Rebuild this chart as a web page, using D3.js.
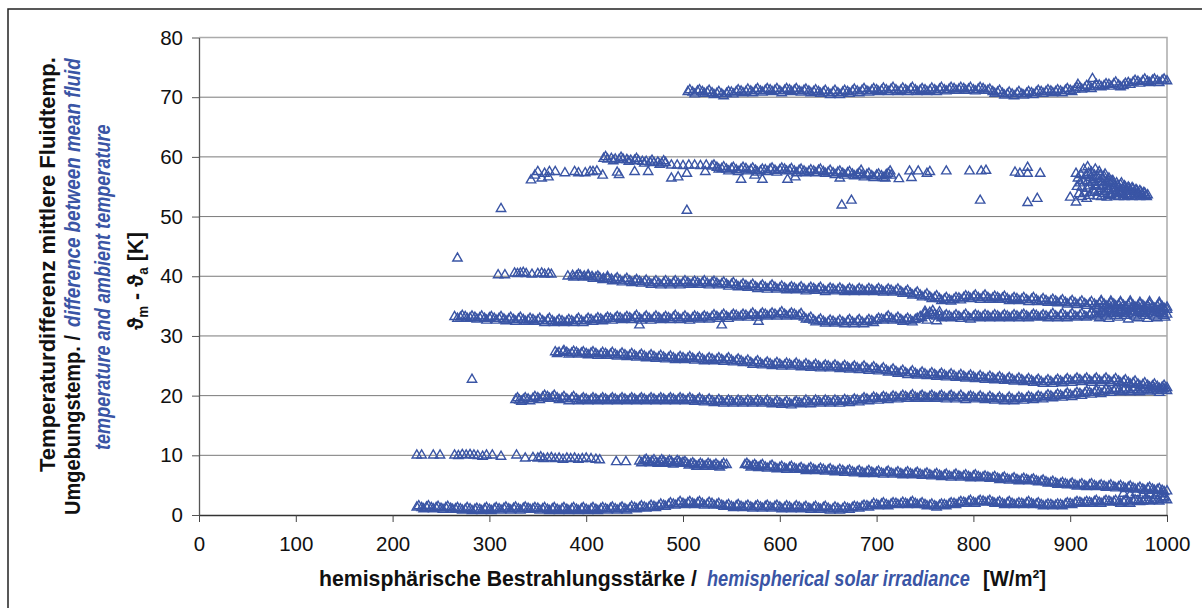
<!DOCTYPE html>
<html>
<head>
<meta charset="utf-8">
<script src="https://cdn.jsdelivr.net/npm/d3@7"></script>
<style>
body { margin: 0; background: #fff; }
svg text { font-family: "Liberation Sans", Arial, sans-serif; }
.blk { font-weight: bold; fill: #111; }
.blue { font-style: italic; font-weight: bold; fill: #3a55a5; }
</style>
</head>
<body>
<div id="chart"></div>
<script>
const xTicks = [0, 100, 200, 300, 400, 500, 600, 700, 800, 900, 1000]
const yTicks = [0, 10, 20, 30, 40, 50, 60, 70, 80]

// ~71-73 K
const bandA = [[505,70.9],[510,70.8],[515,71.0],[520,70.9],[525,70.8],[530,70.7],[535,70.6],[540,70.5],[545,70.6],[550,70.8],[555,70.9],[560,71.0],[565,70.9],[570,71.0],[575,71.1],[580,71.0],[585,71.1],[590,71.2],[595,71.1],[600,71.0],[605,71.1],[610,71.2],[615,71.1],[620,71.0],[625,71.1],[630,71.0],[635,70.9],[640,70.9],[645,70.8],[650,70.7],[655,70.8],[660,70.7],[665,70.8],[670,70.9],[675,71.0],[680,71.0],[685,71.1],[690,71.0],[695,71.1],[700,71.2],[705,71.1],[710,71.2],[715,71.3],[720,71.2],[725,71.1],[730,71.2],[735,71.3],[740,71.2],[745,71.1],[750,71.2],[755,71.1],[760,71.2],[765,71.3],[770,71.2],[775,71.3],[780,71.4],[785,71.3],[790,71.4],[795,71.3],[800,71.2],[805,71.3],[810,71.4],[815,71.1],[820,70.9],[825,70.8],[830,70.6],[835,70.5],[840,70.5],[845,70.6],[850,70.5],[855,70.6],[860,70.7],[865,70.8],[870,70.9],[875,70.9],[880,71.0],[885,70.9],[890,71.0],[895,71.1],[900,71.1],[905,71.3],[908,72.1],[910,71.6],[915,71.5],[920,71.7],[923,73.1],[925,71.8],[930,72.0],[935,71.9],[940,72.1],[945,72.2],[950,72.0],[955,71.9],[960,72.4],[965,72.5],[970,72.6],[975,72.7],[980,72.6],[985,72.8],[990,72.7],[995,72.8],[1000,72.7]]
const bandA2 = [[507,71.2],[512,70.5],[517,71.2],[522,70.6],[527,71.1],[532,70.4],[537,70.9],[542,70.2],[547,70.9],[552,70.5],[557,71.2],[562,70.7],[567,71.3],[572,70.7],[577,71.4],[582,70.8],[587,71.4],[592,70.9],[597,71.4],[602,70.7],[607,71.4],[612,70.9],[617,71.4],[622,70.8],[627,71.3],[632,70.7],[637,71.2],[642,70.6],[647,71.1],[652,70.4],[657,71.1],[662,70.4],[667,71.1],[672,70.6],[677,71.3],[682,70.7],[687,71.4],[692,70.8],[697,71.4],[702,70.9],[707,71.5],[712,70.9],[717,71.6],[722,70.9],[727,71.5],[732,70.9],[737,71.6],[742,70.9],[747,71.4],[752,70.9],[757,71.5],[762,70.9],[767,71.6],[772,71.0],[777,71.6],[782,71.1],[787,71.6],[792,71.1],[797,71.6],[802,71.0],[807,71.6],[812,71.1],[817,71.3],[822,70.6],[827,71.1],[832,70.3],[837,70.8],[842,70.2],[847,70.9],[852,70.3],[857,70.9],[862,70.4],[867,71.1],[872,70.6],[877,71.2],[882,70.7],[887,71.2],[892,70.7],[897,71.4],[902,70.9],[907,71.6],[912,71.3],[917,71.9],[922,71.4],[927,72.1],[932,71.7],[937,72.2],[942,71.8],[947,72.5],[952,71.7],[957,72.3],[962,72.1],[967,72.8],[972,72.3],[977,73.0],[982,72.4],[987,73.0],[992,72.4],[997,73.0]]

// ~57-60 K
const bandB = [[418,59.7],[420,60.0],[422,59.6],[426,59.7],[428,59.3],[430,59.6],[434,59.5],[436,59.9],[438,59.6],[442,59.5],[444,59.2],[446,59.4],[450,59.4],[452,59.7],[454,59.3],[458,59.2],[460,58.9],[462,59.2],[466,59.1],[468,59.4],[470,59.0],[474,59.1],[476,58.7],[478,58.9],[480,59.3],[482,59.0],[488,58.6],[494,58.6],[500,58.5],[506,58.6],[512,58.6],[518,58.5],[524,58.6],[530,58.4],[535,58.2],[540,58.0],[545,57.9],[550,58.0],[555,57.8],[560,57.9],[565,58.0],[570,57.8],[575,57.7],[580,57.6],[585,57.8],[590,57.9],[595,57.7],[600,57.8],[605,57.9],[610,57.7],[615,57.6],[620,57.7],[625,57.6],[630,57.5],[635,57.6],[640,57.7],[645,57.5],[650,57.4],[655,57.3],[660,57.4],[665,57.2],[670,57.3],[675,57.1],[680,57.0],[685,56.9],[690,57.0],[695,56.8],[700,56.9],[705,56.8],[709,56.4],[710,57.0],[715,56.9]]
const bandB2 = [[532,58.6],[537,57.9],[542,58.3],[547,57.6],[552,58.2],[557,57.5],[562,58.2],[567,57.6],[572,58.1],[577,57.4],[582,57.9],[587,57.5],[592,58.1],[597,57.4],[602,58.1],[607,57.6],[612,58.0],[617,57.3],[622,57.9],[627,57.3],[632,57.8],[637,57.3],[642,57.9],[647,57.2],[652,57.7],[657,57.0],[662,57.6],[667,56.9],[672,57.5],[677,56.8],[682,57.3],[687,56.6],[692,57.2],[697,56.5],[702,57.1],[707,56.5],[712,57.2]]
const bandBScatter = [[343,56.1],[347,56.9],[350,57.5],[354,56.4],[357,57.2],[361,56.6],[362,57.5],[368,57.5],[378,57.3],[388,57.5],[392,57.3],[399,57.3],[404,57.5],[407,57.5],[411,57.6],[417,56.9],[432,57.4],[434,57.0],[450,57.5],[464,57.5],[488,56.4],[495,56.6],[504,57.2],[523,57.5],[560,56.2],[574,56.9],[582,56.2],[608,56.2],[616,56.6],[662,56.4],[684,57.7],[714,57.6],[723,56.3],[734,57.6],[736,56.5],[743,57.6],[752,57.2],[755,57.5],[772,57.6],[796,57.6],[808,57.6],[813,57.7],[843,57.4],[848,57.2],[856,58.2],[856,57.2],[869,57.2],[312,51.3],[504,51.0],[664,51.9],[674,52.7],[807,52.7],[856,52.3],[866,53.0],[900,53.2],[906,52.4],[912,53.3],[917,53.0]]
const bandBCluster = [[906,57.2],[908,56.4],[910,55.6],[912,54.9],[914,57.9],[916,56.8],[918,58.3],[918,55.9],[920,55.1],[920,53.5],[922,57.4],[924,56.2],[924,54.4],[926,57.9],[926,55.3],[928,56.7],[928,53.4],[930,57.5],[930,55.8],[932,54.7],[932,53.3],[934,56.3],[934,55.2],[936,57.1],[936,54.1],[938,55.7],[938,53.2],[940,56.4],[940,54.6],[942,55.4],[942,53.7],[944,56.0],[944,54.3],[946,55.1],[946,53.4],[948,55.6],[948,54.0],[950,54.8],[950,53.3],[952,55.3],[952,53.9],[954,54.6],[956,55.1],[956,53.3],[958,54.2],[960,54.9],[960,53.5],[962,54.4],[964,54.8],[964,53.3],[966,54.1],[968,54.5],[968,53.4],[970,53.9],[972,54.3],[972,53.3],[974,53.8],[976,54.0],[978,53.5],[980,53.6],[907,55.0],[909,53.8],[911,57.0],[913,56.0],[915,53.9],[917,54.7],[919,57.3],[921,56.5],[923,55.7],[925,56.9],[925,54.0],[927,55.0],[929,54.2],[931,56.9],[933,55.6],[935,53.8],[935,56.7],[937,55.0],[939,54.4],[939,56.0],[941,53.5],[943,55.9],[945,54.7],[947,53.8],[949,55.2],[951,54.2],[953,55.6],[955,53.7],[957,54.9],[959,53.8],[961,54.7],[963,53.8],[965,54.6],[967,53.7],[969,54.3],[971,53.6],[973,54.1],[975,53.5],[977,53.9],[979,53.3]]

// ~40 -> 35 K
const bandC = [[267,43.0],[309,40.2],[316,40.2],[326,40.5],[329,40.4],[332,40.5],[335,40.6],[338,40.4],[344,40.3],[350,40.4],[354,40.5],[357,40.3],[361,40.4],[364,40.3],[381,40.0],[386,40.1],[390,40.0],[394,40.1],[398,40.0],[402,39.9],[406,39.9],[410,39.8],[414,39.7],[418,39.6],[422,39.6],[426,39.5],[430,39.4],[435,39.3],[440,39.3],[445,39.2],[450,39.1],[455,39.1],[460,39.0],[465,38.9],[470,38.9],[475,38.8],[480,38.9],[485,38.8],[490,38.9],[495,38.8],[500,38.9],[505,38.9],[510,38.8],[515,38.9],[520,38.9],[525,38.8],[530,38.9],[535,38.8],[540,38.7],[545,38.6],[550,38.6],[555,38.5],[560,38.4],[565,38.4],[570,38.3],[575,38.2],[580,38.2],[585,38.1],[590,38.2],[595,38.1],[600,38.0],[605,38.0],[610,37.9],[615,38.0],[620,37.9],[625,37.8],[630,37.8],[635,37.9],[640,37.8],[645,37.7],[650,37.7],[655,37.8],[660,37.7],[665,37.7],[670,37.6],[675,37.7],[680,37.6],[685,37.7],[690,37.6],[695,37.7],[700,37.6],[705,37.6],[710,37.5],[715,37.6],[720,37.5],[725,37.4],[730,37.3],[735,37.1],[740,37.0],[745,36.8],[750,36.7],[755,36.5],[760,36.4],[765,36.2],[770,36.1],[775,36.0],[780,36.1],[785,36.3],[790,36.4],[795,36.5],[800,36.5],[805,36.4],[810,36.5],[815,36.4],[820,36.3],[825,36.4],[830,36.3],[835,36.2],[840,36.1],[845,36.2],[850,36.1],[855,36.0],[860,36.1],[865,36.0],[870,35.9],[875,35.9],[880,35.8],[885,35.8],[890,35.7],[895,35.6],[900,35.6],[905,35.5],[910,35.5],[915,35.4],[920,35.4],[925,35.3],[930,35.4],[935,35.3],[940,35.2],[945,35.3],[950,35.2],[955,35.1],[960,35.2],[965,35.1],[970,35.0],[975,35.1],[980,35.0],[985,34.9],[990,35.0],[995,34.9],[1000,34.8]]
const bandC2 = [[387,39.8],[392,40.3],[397,39.8],[402,40.2],[407,39.6],[412,40.0],[417,39.4],[422,39.9],[427,39.2],[432,39.7],[437,39.0],[442,39.6],[447,38.9],[452,39.4],[457,38.8],[462,39.3],[467,38.6],[472,39.2],[477,38.5],[482,39.2],[487,38.5],[492,39.2],[497,38.5],[502,39.2],[507,38.6],[512,39.1],[517,38.6],[522,39.2],[527,38.5],[532,39.1],[537,38.5],[542,39.0],[547,38.3],[552,38.9],[557,38.2],[562,38.7],[567,38.1],[572,38.6],[577,37.9],[582,38.5],[587,37.8],[592,38.5],[597,37.8],[602,38.3],[607,37.7],[612,38.2],[617,37.7],[622,38.2],[627,37.5],[632,38.1],[637,37.6],[642,38.1],[647,37.4],[652,38.0],[657,37.5],[662,38.0],[667,37.4],[672,37.9],[677,37.4],[682,37.9],[687,37.4],[692,37.9],[697,37.4],[702,37.9],[707,37.3],[712,37.8],[717,37.3],[722,37.8],[727,37.1],[732,37.6],[737,36.8],[742,37.3],[747,36.5],[752,37.0],[757,36.2],[762,36.7],[767,35.9],[772,36.4],[777,35.8],[782,36.4],[787,36.0],[792,36.7],[797,36.2],[802,36.8],[807,36.1],[812,36.8],[817,36.1],[822,36.6],[827,36.1],[832,36.6],[837,35.9],[842,36.4],[847,35.9],[852,36.4],[857,35.7],[862,36.4],[867,35.7],[872,36.2],[877,35.6],[882,36.1],[887,35.5],[892,36.0],[897,35.3],[902,35.9],[907,35.2],[912,35.8],[917,35.1],[922,35.7],[927,35.0],[932,35.7],[937,35.0],[942,35.5],[947,35.0],[952,35.5],[957,34.8],[962,35.5],[967,34.8],[972,35.3],[977,34.8],[982,35.3],[987,34.6],[992,35.3],[997,34.6]]

// ~33 K
const bandD = [[264,33.2],[270,33.1],[275,33.2],[280,33.0],[285,33.1],[290,33.0],[295,32.9],[300,33.0],[305,32.9],[310,32.9],[315,32.8],[320,32.8],[325,32.7],[330,32.8],[335,32.7],[340,32.6],[345,32.7],[350,32.6],[355,32.5],[360,32.6],[365,32.5],[370,32.4],[375,32.5],[380,32.4],[385,32.5],[390,32.6],[395,32.5],[400,32.6],[405,32.7],[410,32.7],[415,32.8],[420,32.8],[425,32.9],[430,32.9],[435,33.0],[440,32.9],[445,33.0],[450,33.1],[455,32.9],[460,33.0],[465,32.9],[470,33.0],[475,33.0],[480,32.9],[485,33.0],[490,33.1],[495,33.0],[500,33.0],[505,32.9],[510,33.0],[515,33.1],[520,33.0],[525,33.1],[530,33.2],[535,33.2],[540,33.3],[545,33.2],[550,33.3],[555,33.4],[560,33.3],[565,33.4],[570,33.5],[575,33.4],[580,33.5],[585,33.6],[590,33.5],[595,33.6],[600,33.7],[605,33.6],[610,33.5],[615,33.6],[620,33.4],[625,33.1],[630,32.8],[635,32.6],[640,32.5],[645,32.4],[650,32.3],[655,32.4],[660,32.3],[665,32.3],[670,32.4],[675,32.3],[680,32.4],[685,32.3],[690,32.4],[695,32.5],[700,32.6],[705,32.8],[710,33.0],[715,32.9],[720,32.8],[725,32.7],[730,32.6],[735,32.6],[740,32.7],[745,33.2],[750,33.7],[755,33.9],[760,33.6],[765,33.4],[770,33.2],[775,33.3],[780,33.2],[785,33.2],[790,33.3],[795,33.1],[800,33.2],[805,33.3],[810,33.2],[815,33.3],[820,33.2],[825,33.3],[830,33.2],[835,33.3],[840,33.2],[845,33.3],[850,33.4],[855,33.3],[860,33.3],[865,33.4],[870,33.2],[875,33.3],[880,33.4],[885,33.3],[890,33.4],[895,33.3],[900,33.4],[905,33.3],[910,33.4],[915,33.3],[920,33.5],[925,33.6],[930,33.7],[935,33.6],[940,33.8],[945,33.7],[950,33.9],[955,33.7],[960,33.8],[965,33.6],[970,33.9],[975,33.7],[980,33.8],[985,33.6],[990,33.9],[995,33.7],[1000,33.6]]
const bandD2 = [[267,32.9],[272,33.4],[277,32.9],[282,33.3],[287,32.8],[292,33.3],[297,32.6],[302,33.2],[307,32.6],[312,33.2],[317,32.5],[322,33.1],[327,32.4],[332,33.1],[337,32.4],[342,32.9],[347,32.4],[352,32.9],[357,32.2],[362,32.9],[367,32.2],[372,32.7],[377,32.2],[382,32.7],[387,32.2],[392,32.9],[397,32.2],[402,32.9],[407,32.4],[412,33.0],[417,32.5],[422,33.1],[427,32.6],[432,33.2],[437,32.7],[442,33.2],[447,32.7],[452,33.4],[457,32.6],[462,33.3],[467,32.6],[472,33.3],[477,32.7],[482,33.2],[487,32.7],[492,33.4],[497,32.7],[502,33.3],[507,32.6],[512,33.3],[517,32.8],[522,33.3],[527,32.8],[532,33.5],[537,32.9],[542,33.6],[547,32.9],[552,33.6],[557,33.1],[562,33.6],[567,33.1],[572,33.8],[577,33.1],[582,33.8],[587,33.3],[592,33.8],[597,33.3],[602,34.0],[607,33.3],[612,33.8],[617,33.3],[622,33.7],[627,32.8],[632,33.1],[637,32.3],[642,32.8],[647,32.1],[652,32.6],[657,32.1],[662,32.6],[667,32.0],[672,32.7],[677,32.0],[682,32.7],[687,32.0],[692,32.7],[697,32.2],[702,32.9],[707,32.6],[712,33.3],[717,32.6],[722,33.1],[727,32.4],[732,32.9],[737,32.3],[742,32.9],[747,33.0],[752,33.4],[757,33.6],[762,33.3],[767,33.0],[772,33.5],[777,33.0],[782,33.5],[787,32.9],[792,33.6],[797,32.8],[802,33.5],[807,33.0],[812,33.5],[817,33.0],[822,33.5],[827,33.0],[832,33.5],[837,33.0],[842,33.5],[847,33.0],[852,33.6],[857,33.0],[862,33.6],[867,33.1],[872,33.5],[877,33.0],[882,33.7],[887,33.0],[892,33.7],[897,33.0],[902,33.7],[907,33.1],[912,33.7],[917,33.1],[922,33.8],[927,33.3],[932,34.0],[937,33.3],[942,34.1],[947,33.4],[952,34.2],[957,33.4],[962,34.1],[967,33.3],[972,34.2],[977,33.4],[982,34.1],[987,33.3],[992,34.2],[997,33.4]]
const bandDScatter = [[455,31.8],[540,31.8],[578,32.4],[750,34.1],[758,34.2],[765,34.0],[752,32.6],[762,32.5],[928,34.5],[934,34.3],[940,34.6],[946,34.4],[952,34.7],[958,34.4],[964,34.6],[970,34.5],[976,34.3],[982,34.6],[988,34.4],[994,34.5],[1000,34.4],[930,33.0],[940,32.9],[950,33.1],[960,32.8],[970,33.0],[980,32.9],[990,33.0],[998,33.1],[932,35.9],[942,35.8],[952,35.7],[962,35.8],[972,35.6],[982,35.7],[992,35.6],[936,34.0],[946,34.1],[956,34.0],[966,34.1],[976,34.0],[986,34.1],[996,34.0]]

// ~27 -> 21 K
const bandE = [[282,22.7],[368,27.3],[372,27.2],[376,27.3],[380,27.2],[385,27.1],[390,27.2],[395,27.1],[400,27.0],[405,27.1],[410,27.0],[415,26.9],[420,27.0],[425,26.9],[430,26.9],[435,26.8],[440,26.8],[445,26.7],[450,26.7],[455,26.6],[460,26.6],[465,26.5],[470,26.5],[475,26.4],[480,26.4],[485,26.3],[490,26.3],[495,26.2],[500,26.3],[505,26.2],[510,26.2],[515,26.1],[520,26.1],[525,26.0],[530,26.1],[535,26.0],[540,26.0],[545,26.0],[550,25.9],[555,25.8],[560,25.8],[565,25.6],[570,25.5],[575,25.5],[580,25.4],[585,25.3],[590,25.3],[595,25.2],[600,25.2],[605,25.1],[610,25.2],[615,25.1],[620,25.1],[625,25.0],[630,25.0],[635,24.9],[640,24.9],[645,24.8],[650,24.9],[655,24.8],[660,24.8],[665,24.7],[670,24.7],[675,24.6],[680,24.6],[685,24.6],[690,24.5],[695,24.5],[700,24.4],[705,24.3],[710,24.2],[715,24.1],[720,24.0],[725,23.9],[730,23.8],[735,23.8],[740,23.7],[745,23.6],[750,23.6],[755,23.5],[760,23.5],[765,23.4],[770,23.4],[775,23.3],[780,23.3],[785,23.2],[790,23.2],[795,23.1],[800,23.1],[805,23.0],[810,23.0],[815,22.9],[820,22.9],[825,22.8],[830,22.8],[835,22.7],[840,22.7],[845,22.6],[850,22.6],[855,22.5],[860,22.5],[865,22.4],[870,22.3],[875,22.3],[880,22.3],[885,22.4],[890,22.4],[895,22.5],[900,22.5],[905,22.6],[910,22.6],[915,22.6],[920,22.5],[925,22.6],[930,22.5],[935,22.6],[940,22.5],[945,22.5],[950,22.4],[955,22.3],[960,22.2],[965,22.1],[970,21.9],[975,21.8],[980,21.7],[985,21.6],[990,21.5],[995,21.4],[1000,21.3]]
const bandE2 = [[370,27.0],[377,27.5],[382,26.9],[387,27.4],[392,26.9],[397,27.3],[402,26.8],[407,27.3],[412,26.7],[417,27.2],[422,26.7],[427,27.2],[432,26.6],[437,27.1],[442,26.5],[447,27.0],[452,26.4],[457,26.9],[462,26.3],[467,26.8],[472,26.2],[477,26.7],[482,26.1],[487,26.6],[492,26.0],[497,26.5],[502,26.0],[507,26.5],[512,25.9],[517,26.4],[522,25.8],[527,26.3],[532,25.8],[537,26.3],[542,25.7],[547,26.3],[552,25.6],[557,26.1],[562,25.5],[567,25.9],[572,25.2],[577,25.8],[582,25.1],[587,25.6],[592,25.0],[597,25.5],[602,24.9],[607,25.4],[612,24.9],[617,25.4],[622,24.8],[627,25.3],[632,24.7],[637,25.2],[642,24.6],[647,25.1],[652,24.6],[657,25.1],[662,24.5],[667,25.0],[672,24.4],[677,24.9],[682,24.3],[687,24.9],[692,24.2],[697,24.8],[702,24.1],[707,24.6],[712,23.9],[717,24.4],[722,23.7],[727,24.2],[732,23.5],[737,24.1],[742,23.4],[747,23.9],[752,23.3],[757,23.8],[762,23.2],[767,23.7],[772,23.1],[777,23.6],[782,23.0],[787,23.5],[792,22.9],[797,23.4],[802,22.8],[807,23.3],[812,22.7],[817,23.2],[822,22.6],[827,23.1],[832,22.5],[837,23.0],[842,22.4],[847,22.9],[852,22.3],[857,22.8],[862,22.2],[867,22.7],[872,22.0],[877,22.6],[882,22.0],[887,22.7],[892,22.1],[897,22.8],[902,22.2],[907,22.9],[912,22.3],[917,22.9],[922,22.2],[927,22.9],[932,22.2],[937,22.9],[942,22.2],[947,22.8],[952,22.1],[957,22.6],[962,21.9],[967,22.4],[972,21.6],[977,22.1],[982,21.4],[987,21.9],[992,21.2],[997,21.7]]

// ~19-21 K
const bandF = [[327,19.3],[331,19.2],[335,19.3],[340,19.4],[345,19.5],[350,19.6],[355,19.7],[360,19.8],[365,19.7],[370,19.6],[375,19.5],[380,19.4],[385,19.5],[390,19.4],[395,19.3],[400,19.4],[405,19.3],[410,19.4],[415,19.3],[420,19.4],[425,19.3],[430,19.4],[435,19.3],[440,19.4],[445,19.3],[450,19.4],[455,19.3],[460,19.4],[465,19.3],[470,19.4],[475,19.3],[480,19.4],[485,19.3],[490,19.4],[495,19.3],[500,19.4],[505,19.3],[510,19.3],[515,19.2],[520,19.2],[525,19.1],[530,19.1],[535,19.0],[540,19.0],[545,18.9],[550,19.0],[555,18.9],[560,19.0],[565,18.9],[570,19.0],[575,18.9],[580,19.0],[585,18.9],[590,18.9],[595,18.8],[600,18.8],[605,18.7],[610,18.7],[615,18.8],[620,18.8],[625,18.9],[630,18.9],[635,18.9],[640,19.0],[645,18.9],[650,19.0],[655,18.9],[660,19.0],[665,19.0],[670,19.1],[675,19.1],[680,19.2],[685,19.3],[690,19.4],[695,19.4],[700,19.5],[705,19.5],[710,19.6],[715,19.6],[720,19.7],[725,19.7],[730,19.8],[735,19.8],[740,19.7],[745,19.8],[750,19.7],[755,19.8],[760,19.7],[765,19.8],[770,19.7],[775,19.8],[780,19.7],[785,19.7],[790,19.6],[795,19.7],[800,19.7],[805,19.6],[810,19.6],[815,19.5],[820,19.5],[825,19.4],[830,19.4],[835,19.4],[840,19.4],[845,19.4],[850,19.5],[855,19.5],[860,19.6],[865,19.6],[870,19.7],[875,19.8],[880,19.9],[885,19.9],[890,20.0],[895,20.1],[900,20.1],[905,20.2],[910,20.3],[915,20.4],[920,20.5],[925,20.5],[930,20.6],[935,20.7],[940,20.8],[945,20.8],[950,20.9],[955,20.9],[960,20.9],[965,21.0],[970,20.9],[975,20.9],[980,21.0],[985,20.9],[990,20.8],[995,20.9],[1000,20.8]]
const bandF2 = [[329,19.6],[333,19.0],[337,19.6],[342,19.1],[347,19.8],[352,19.3],[357,20.0],[362,19.5],[367,20.0],[372,19.3],[377,19.8],[382,19.1],[387,19.8],[392,19.1],[397,19.6],[402,19.1],[407,19.6],[412,19.1],[417,19.6],[422,19.1],[427,19.6],[432,19.1],[437,19.6],[442,19.1],[447,19.6],[452,19.1],[457,19.6],[462,19.1],[467,19.6],[472,19.1],[477,19.6],[482,19.1],[487,19.6],[492,19.1],[497,19.6],[502,19.1],[507,19.6],[512,19.0],[517,19.5],[522,18.9],[527,19.4],[532,18.8],[537,19.3],[542,18.7],[547,19.2],[552,18.7],[557,19.2],[562,18.7],[567,19.2],[572,18.7],[577,19.2],[582,18.7],[587,19.2],[592,18.6],[597,19.1],[602,18.5],[607,19.0],[612,18.4],[617,19.0],[622,18.6],[627,19.2],[632,18.6],[637,19.2],[642,18.7],[647,19.2],[652,18.7],[657,19.2],[662,18.7],[667,19.3],[672,18.8],[677,19.4],[682,18.9],[687,19.6],[692,19.1],[697,19.7],[702,19.2],[707,19.8],[712,19.3],[717,19.9],[722,19.4],[727,20.0],[732,19.5],[737,20.1],[742,19.5],[747,20.0],[752,19.5],[757,20.0],[762,19.5],[767,20.0],[772,19.4],[777,20.0],[782,19.4],[787,20.0],[792,19.3],[797,19.9],[802,19.4],[807,19.9],[812,19.3],[817,19.8],[822,19.2],[827,19.7],[832,19.1],[837,19.7],[842,19.1],[847,19.7],[852,19.2],[857,19.8],[862,19.3],[867,19.9],[872,19.4],[877,20.1],[882,19.6],[887,20.2],[892,19.7],[897,20.4],[902,19.8],[907,20.5],[912,20.0],[917,20.7],[922,20.2],[927,20.8],[932,20.3],[937,21.0],[942,20.5],[947,21.1],[952,20.6],[957,21.2],[962,20.6],[967,21.3],[972,20.6],[977,21.2],[982,20.7],[987,21.2],[992,20.5],[997,21.1]]

// ~10 -> 4 K
const bandG = [[225,10.0],[230,10.0],[242,10.0],[249,10.0],[264,10.0],[268,9.9],[272,10.1],[276,10.0],[280,10.1],[284,10.0],[288,9.9],[293,9.8],[297,10.0],[303,10.0],[312,9.8],[328,10.0],[337,9.5],[345,9.6],[350,9.5],[353,9.7],[356,9.4],[360,9.5],[364,9.6],[368,9.4],[372,9.5],[376,9.3],[380,9.5],[384,9.4],[388,9.5],[392,9.3],[396,9.4],[400,9.5],[405,9.4],[410,9.3],[414,9.2],[431,8.9],[441,8.9],[455,9.0],[460,9.1],[464,8.9],[468,9.0],[472,8.8],[476,8.9],[480,9.0],[484,8.8],[488,8.9],[492,8.7],[496,8.9],[500,8.8],[504,8.6],[508,8.5],[512,8.4],[516,8.3],[520,8.4],[524,8.3],[528,8.4],[532,8.3],[536,8.2],[540,8.3],[545,8.4],[564,8.4],[568,8.3],[572,8.2],[576,8.1],[580,8.2],[585,8.0],[590,8.1],[595,7.9],[600,7.9],[605,7.8],[610,7.9],[615,7.8],[620,7.7],[625,7.6],[630,7.7],[635,7.6],[640,7.5],[645,7.6],[650,7.5],[655,7.4],[660,7.3],[665,7.4],[670,7.3],[675,7.2],[680,7.2],[685,7.1],[690,7.2],[695,7.1],[700,7.1],[705,7.0],[710,7.1],[715,7.0],[720,7.0],[725,6.9],[730,7.0],[735,6.9],[740,6.9],[745,6.8],[750,6.8],[755,6.7],[760,6.7],[765,6.6],[770,6.6],[775,6.5],[780,6.6],[785,6.5],[790,6.5],[795,6.4],[800,6.5],[805,6.4],[810,6.3],[815,6.3],[820,6.2],[825,6.1],[830,6.1],[835,6.0],[840,6.0],[845,5.9],[850,5.9],[855,5.9],[860,5.8],[865,5.7],[870,5.6],[875,5.5],[880,5.4],[885,5.3],[890,5.2],[895,5.2],[900,5.1],[905,5.0],[910,5.0],[915,4.9],[920,5.0],[925,4.9],[930,4.8],[935,4.8],[940,4.8],[945,4.7],[950,4.7],[955,4.6],[960,4.6],[965,4.5],[970,4.4],[975,4.3],[980,4.4],[985,4.3],[990,4.2],[995,4.1],[1000,4.0],[955,3.6],[962,3.4],[968,3.7],[975,3.3],[982,3.5],[988,3.2],[994,3.6],[998,3.0]]
const bandG2 = [[457,8.7],[462,9.3],[466,8.7],[470,9.2],[474,8.6],[478,9.2],[482,8.6],[486,9.1],[490,8.5],[494,9.1],[498,8.6],[502,8.9],[506,8.3],[510,8.7],[514,8.1],[518,8.6],[522,8.1],[526,8.6],[530,8.1],[534,8.5],[538,8.0],[542,8.6],[566,8.6],[570,8.0],[574,8.4],[578,7.9],[582,8.4],[587,7.8],[592,8.3],[597,7.7],[602,8.1],[607,7.6],[612,8.1],[617,7.6],[622,7.9],[627,7.4],[632,7.9],[637,7.4],[642,7.8],[647,7.3],[652,7.7],[657,7.2],[662,7.6],[667,7.1],[672,7.5],[677,7.0],[682,7.4],[687,6.9],[692,7.4],[697,6.9],[702,7.3],[707,6.8],[712,7.3],[717,6.8],[722,7.2],[727,6.7],[732,7.2],[737,6.7],[742,7.1],[747,6.6],[752,7.0],[757,6.5],[762,6.9],[767,6.4],[772,6.8],[777,6.3],[782,6.8],[787,6.3],[792,6.7],[797,6.2],[802,6.7],[807,6.2],[812,6.5],[817,6.1],[822,6.4],[827,5.9],[832,6.3],[837,5.8],[842,6.2],[847,5.7],[852,6.1],[857,5.7],[862,6.0],[867,5.5],[872,5.8],[877,5.3],[882,5.6],[887,5.1],[892,5.4],[897,5.0],[902,5.3],[907,4.8],[912,5.2],[917,4.7],[922,5.2],[927,4.7],[932,5.0],[937,4.6],[942,5.0],[947,4.5],[952,4.9],[957,4.4],[962,4.8],[967,4.3],[972,4.6],[977,4.1],[982,4.6],[987,4.1],[992,4.4],[997,3.9]]

// ~1-2.5 K
const bandH = [[225,1.3],[230,1.2],[235,1.3],[240,1.2],[245,1.2],[250,1.1],[255,1.2],[260,1.1],[265,1.0],[270,1.0],[275,0.9],[280,1.0],[285,0.9],[290,0.9],[295,1.0],[300,0.9],[305,1.0],[310,1.0],[315,1.1],[320,1.0],[325,1.1],[330,1.0],[335,1.1],[340,1.1],[345,1.0],[350,1.1],[355,1.0],[360,0.9],[365,1.0],[370,0.9],[375,1.0],[380,0.9],[385,1.0],[390,0.9],[395,1.0],[400,0.9],[405,1.0],[410,0.9],[415,1.0],[420,1.0],[425,1.1],[430,1.0],[435,1.1],[440,1.0],[445,1.1],[450,1.2],[455,1.2],[460,1.3],[465,1.3],[470,1.4],[475,1.5],[480,1.6],[485,1.7],[490,1.8],[495,1.9],[500,1.9],[505,2.0],[510,1.9],[515,2.0],[520,1.9],[525,1.8],[530,1.9],[535,1.7],[540,1.6],[545,1.5],[550,1.4],[555,1.5],[560,1.4],[565,1.4],[570,1.3],[575,1.4],[580,1.3],[585,1.4],[590,1.3],[595,1.4],[600,1.3],[605,1.2],[610,1.3],[615,1.2],[620,1.3],[625,1.2],[630,1.1],[635,1.2],[640,1.1],[645,1.2],[650,1.1],[655,1.0],[660,1.1],[665,1.0],[670,1.1],[675,1.2],[680,1.3],[685,1.4],[690,1.5],[695,1.6],[700,1.7],[705,1.8],[710,1.7],[715,1.8],[720,1.9],[725,1.8],[730,1.9],[735,2.0],[740,1.9],[745,1.8],[750,1.7],[755,1.6],[760,1.5],[765,1.6],[770,1.7],[775,1.8],[780,1.9],[785,2.0],[790,2.1],[795,2.2],[800,2.1],[805,2.2],[810,2.3],[815,2.2],[820,2.1],[825,2.0],[830,1.9],[835,2.0],[840,1.9],[845,1.8],[850,1.9],[855,2.0],[860,1.9],[865,1.8],[870,1.7],[875,1.6],[880,1.7],[885,1.6],[890,1.7],[895,1.8],[900,1.9],[905,2.0],[910,2.1],[915,2.0],[920,2.1],[925,2.2],[930,2.1],[935,2.2],[940,2.3],[945,2.2],[950,2.1],[955,2.2],[960,2.1],[965,2.3],[970,2.4],[975,2.3],[980,2.5],[985,2.4],[990,2.5],[995,2.6],[1000,2.5]]
const bandH2 = [[227,1.5],[232,1.0],[237,1.5],[242,1.0],[247,1.4],[252,0.9],[257,1.4],[262,0.9],[267,1.2],[272,0.8],[277,1.2],[282,0.7],[287,1.1],[292,0.7],[297,1.2],[302,0.7],[307,1.2],[312,0.8],[317,1.3],[322,0.8],[327,1.3],[332,0.8],[337,1.3],[342,0.9],[347,1.2],[352,0.8],[357,1.2],[362,0.7],[367,1.2],[372,0.7],[377,1.2],[382,0.7],[387,1.2],[392,0.7],[397,1.2],[402,0.7],[407,1.2],[412,0.7],[417,1.2],[422,0.8],[427,1.3],[432,0.8],[437,1.3],[442,0.8],[447,1.4],[452,1.0],[457,1.5],[462,1.1],[467,1.6],[472,1.2],[477,1.8],[482,1.4],[487,2.0],[492,1.6],[497,2.2],[502,1.7],[507,2.2],[512,1.7],[517,2.2],[522,1.6],[527,2.1],[532,1.6],[537,1.9],[542,1.4],[547,1.7],[552,1.2],[557,1.7],[562,1.2],[567,1.6],[572,1.1],[577,1.6],[582,1.1],[587,1.6],[592,1.1],[597,1.6],[602,1.0],[607,1.5],[612,1.0],[617,1.5],[622,1.0],[627,1.4],[632,0.9],[637,1.4],[642,0.9],[647,1.4],[652,0.8],[657,1.3],[662,0.8],[667,1.3],[672,0.9],[677,1.4],[682,1.1],[687,1.6],[692,1.3],[697,1.9],[702,1.5],[707,2.0],[712,1.5],[717,2.0],[722,1.7],[727,2.1],[732,1.7],[737,2.2],[742,1.7],[747,2.0],[752,1.5],[757,1.8],[762,1.3],[767,1.8],[772,1.5],[777,2.0],[782,1.7],[787,2.2],[792,1.9],[797,2.4],[802,1.9],[807,2.4],[812,2.1],[817,2.4],[822,1.9],[827,2.2],[832,1.7],[837,2.2],[842,1.7],[847,2.0],[852,1.7],[857,2.2],[862,1.7],[867,2.0],[872,1.5],[877,1.8],[882,1.5],[887,1.8],[892,1.5],[897,2.0],[902,1.7],[907,2.2],[912,1.9],[917,2.2],[922,1.9],[927,2.4],[932,1.9],[937,2.4],[942,2.1],[947,2.4],[952,1.9],[957,2.4],[962,1.9],[967,2.5],[972,2.2],[977,2.5],[982,2.3],[987,2.6],[992,2.3],[997,2.8]]

const width = 1202, height = 608
const blue = "#3a55a5"

const svg = d3.select("#chart").append("svg")
    .attr("width", width)
    .attr("height", height)

// outer frame, runs off the right and bottom edges like the source image
svg.append("rect")
    .attr("x", 8).attr("y", 9)
    .attr("width", 1220).attr("height", 640)
    .attr("fill", "none")
    .attr("stroke", "#222")
    .attr("stroke-width", 1.5)

const xScale = d3.scaleLinear().domain([0, 1000]).range([199, 1167])
const yScale = d3.scaleLinear().domain([0, 80]).range([515, 37.5])

// gridlines
svg.append("g")
    .selectAll("line")
    .data(yTicks.filter(t => t > 0 && t < 80))
    .join("line")
    .attr("x1", xScale(0)).attr("x2", xScale(1000))
    .attr("y1", d => yScale(d)).attr("y2", d => yScale(d))
    .attr("stroke", "#7a7a7a")
    .attr("stroke-width", 1)

// plot area border (top + right)
svg.append("path")
    .attr("d", `M${xScale(0)},${yScale(80)}H${xScale(1000)}V${yScale(0)}`)
    .attr("fill", "none")
    .attr("stroke", "#ababab")
    .attr("stroke-width", 1.5)

const xAxis = d3.axisBottom(xScale).tickValues(xTicks).tickFormat(d3.format("d"))
    .tickSize(7).tickPadding(14).tickSizeOuter(0)
const yAxis = d3.axisLeft(yScale).tickValues(yTicks).tickFormat(d3.format("d"))
    .tickSize(7).tickPadding(9).tickSizeOuter(0)

const gx = svg.append("g")
    .attr("transform", `translate(0,${yScale(0)})`)
    .call(xAxis)
gx.select(".domain").attr("stroke", "#333").attr("stroke-width", 1.3)
gx.selectAll(".tick line").attr("stroke", "#444")
gx.selectAll(".tick text")
    .attr("font-size", 20.5)
    .attr("fill", "#111")
    .style("font-family", "'Liberation Sans', Arial, sans-serif")

const gy = svg.append("g")
    .attr("transform", `translate(${xScale(0)},0)`)
    .call(yAxis)
gy.select(".domain").attr("stroke", "#555").attr("stroke-width", 1.3)
gy.selectAll(".tick line").attr("stroke", "#555")
gy.selectAll(".tick text")
    .attr("font-size", 20.5)
    .attr("fill", "#111")
    .style("font-family", "'Liberation Sans', Arial, sans-serif")

// markers
const points = [].concat(bandA, bandA2, bandB, bandB2, bandBScatter, bandBCluster,
    bandC, bandC2, bandD, bandD2, bandDScatter, bandE, bandE2, bandF, bandF2,
    bandG, bandG2, bandH, bandH2)
const tri = d3.symbol(d3.symbolTriangle, 38)
svg.append("g")
    .selectAll("path")
    .data(points)
    .join("path")
    .attr("transform", d => `translate(${xScale(d[0])},${yScale(d[1])})`)
    .attr("d", tri)
    .attr("fill", "none")
    .attr("stroke", blue)
    .attr("stroke-width", 1.4)

// squeeze a text run (horizontally along its own direction) to the length measured on the source
function fit(t, x, y, len, rotated) {
    const natural = t.node().getComputedTextLength()
    const k = len / natural
    t.attr("transform", `translate(${x},${y})` + (rotated ? " rotate(-90)" : "") + ` scale(${k},1)`)
    return t
}
function run(x, y, cls, str, len, rotated) {
    const t = svg.append("text")
        .attr("class", cls)
        .attr("font-size", 22)
        .text(str)
    return fit(t, x, y, len, rotated)
}

// x title
run(319, 586, "blk", "hemisphärische Bestrahlungsstärke /", 378)
run(707, 586, "blue", "hemispherical solar irradiance", 263)
run(983, 586, "blk", "[W/m²]", 63)

// y title
run(55, 472, "blk", "Temperaturdifferenz mittlere Fluidtemp.", 415, true)
run(80, 515, "blk", "Umgebungstemp. /", 180, true)
run(80, 327, "blue", "difference between mean fluid", 269, true)
run(110, 450, "blue", "temperature and ambient temperature", 326, true)

const l4 = svg.append("text")
    .attr("class", "blk")
    .attr("font-size", 22)
l4.append("tspan").text("ϑ")
l4.append("tspan").attr("font-size", 14).attr("dy", 5).text("m")
l4.append("tspan").attr("dy", -5).text(" - ϑ")
l4.append("tspan").attr("font-size", 14).attr("dy", 5).text("a")
l4.append("tspan").attr("dy", -5).text(" [K]")
fit(l4, 143, 330, 98, true)
</script>
</body>
</html>
